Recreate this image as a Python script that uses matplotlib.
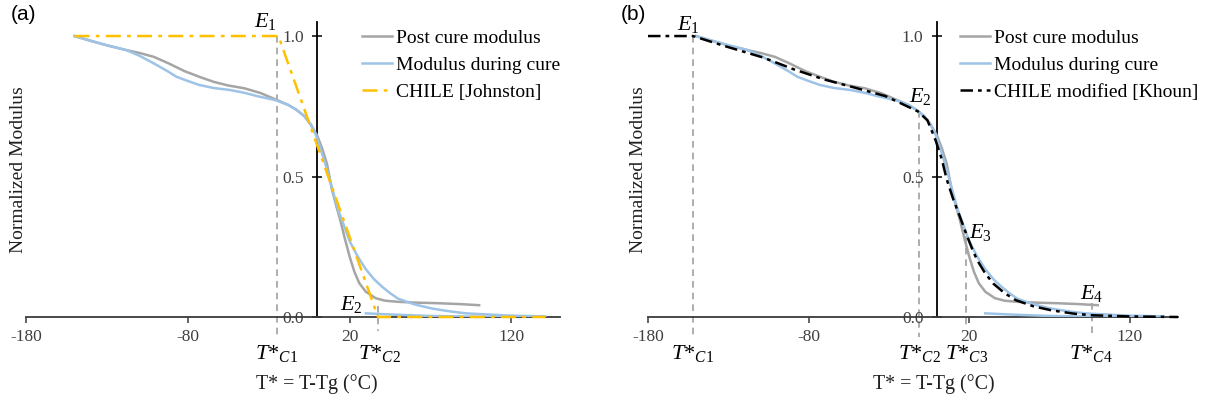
import matplotlib
matplotlib.use("Agg")
import matplotlib.pyplot as plt
from matplotlib.lines import Line2D

# ---------------- data ----------------
post_x = [-150, -140, -130, -118, -110, -101, -92, -82, -72, -64, -55, -45, -35, -26, -18, -13, -8, -4, 0, 3, 6, 9, 12, 14, 17, 20, 23, 26, 30, 36, 42, 50, 62, 75, 88, 100]
post_y = [1.0, 0.983, 0.967, 0.95, 0.94, 0.926, 0.903, 0.875, 0.853, 0.837, 0.824, 0.814, 0.797, 0.775, 0.755, 0.738, 0.715, 0.685, 0.645, 0.6, 0.545, 0.455, 0.39, 0.35, 0.28, 0.215, 0.16, 0.12, 0.09, 0.067, 0.058, 0.054, 0.051, 0.049, 0.046, 0.042]

cure_x = [-150, -140, -130, -118, -110, -104, -98, -92, -87, -80, -73, -64, -54, -45, -37, -26, -18, -13, -8, -4, -1, 2, 6, 10, 13, 16, 20, 25, 30, 35, 40, 45, 50, 60, 71, 82, 92, 105, 119, 141]
cure_y = [1.0, 0.983, 0.967, 0.95, 0.93, 0.912, 0.893, 0.873, 0.855, 0.84, 0.826, 0.815, 0.808, 0.798, 0.786, 0.772, 0.755, 0.738, 0.715, 0.685, 0.65, 0.6, 0.525, 0.44, 0.38, 0.333, 0.27, 0.215, 0.17, 0.135, 0.108, 0.085, 0.065, 0.045, 0.03, 0.02, 0.013, 0.009, 0.005, 0.002]

cure_tail_x = [30, 45, 68, 100, 140]
cure_tail_y = [0.013, 0.009, 0.004, 0.001, 0.0]

johnston_x = [-150, -24, 37.5, 141]
johnston_y = [1.0, 1.0, 0.0, 0.0]

khoun_x = [-180, -152, -132, -108, -89, -70, -51, -32, -12, -6, -1, 3, 6, 10, 14, 18, 22, 25, 30, 35, 42, 49, 60, 71, 85, 97, 120, 150]
khoun_y = [1.0, 1.0, 0.964, 0.923, 0.881, 0.845, 0.816, 0.786, 0.732, 0.70, 0.63, 0.56, 0.49, 0.42, 0.36, 0.298, 0.24, 0.202, 0.155, 0.119, 0.085, 0.06, 0.038, 0.024, 0.012, 0.006, 0.002, 0.0]

# critical temperatures
tc_a = [-25, 37.5]
tc_b = [-152, -11, 18, 96.5]

x_ticks = [-180, -80, 20, 120]
y_ticks = [0.0, 0.5, 1.0]
y_ticklabels = ["0.0", "0.5", "1.0"]

# ---------------- style ----------------
plt.rcParams['font.family'] = ['Liberation Serif', 'DejaVu Serif']
plt.rcParams['mathtext.fontset'] = 'custom'
plt.rcParams['mathtext.it'] = 'Liberation Serif:italic'
plt.rcParams['mathtext.rm'] = 'Liberation Serif'

GRAY = '#A5A5A5'
BLUE = '#9DC3E6'
ORANGE = '#FFC000'
DASH = '#A0A0A0'
TXT = '#404040'
ORANGE_LS = (0, (6, 2.5, 1.5, 2.5))
BLACK_LS = (0, (5, 2, 1.5, 2))

W, H = 1211, 404
fig = plt.figure(figsize=(W / 100, H / 100), dpi=100)


def make_ax(left_px, width_px):
    ax = fig.add_axes([left_px / W, 87 / H, width_px / W, 295 / H])
    ax.set_xlim(-180, 150)
    ax.set_ylim(0, 1.05)
    ax.patch.set_alpha(0)
    for s in ['top', 'right']:
        ax.spines[s].set_visible(False)
    ax.spines['left'].set_position(('data', 0))
    ax.spines['left'].set_color('black')
    ax.spines['left'].set_linewidth(1.3)
    ax.spines['bottom'].set_color('#3a3a3a')
    ax.spines['bottom'].set_linewidth(1.3)
    ax.set_xticks(x_ticks)
    ax.set_xticklabels([str(v) for v in x_ticks])
    ax.set_yticks(y_ticks)
    ax.set_yticklabels(y_ticklabels)
    ax.tick_params(axis='x', direction='out', length=4.5, width=1.1, colors='#3a3a3a',
                   labelsize=12.5, labelcolor=TXT, pad=4)
    ax.tick_params(axis='y', direction='inout', length=7.5, width=1.1, colors='black',
                   labelsize=12.5, labelcolor=TXT, pad=6)
    return ax


def vdash(ax, x, y0, y1):
    ax.plot([x, x], [y0, y1], color=DASH, lw=1.2, ls=(0, (4, 3)), clip_on=False, zorder=1)


def lab(ax, x, y, s, size=16):
    ax.text(x, y, s, fontsize=size, ha='center', va='center', clip_on=False)


def E(n):
    return r'$E_{\mathit{' + str(n) + '}}$'


def TC(n):
    return r'$T{*}_{\mathit{C' + str(n) + '}}$'


LEG_KW = dict(loc='upper left', frameon=False, fontsize=14, handlelength=1.55,
              handletextpad=0.2, labelspacing=0.48, borderpad=0, borderaxespad=0)

# ---------------- panel (a) ----------------
axa = make_ax(26, 534)
vdash(axa, tc_a[0], 1.0, -0.07)
vdash(axa, tc_a[1], 0.04, -0.05)
axa.plot(post_x, post_y, color=GRAY, lw=1.8, zorder=3)
axa.plot(cure_x, cure_y, color=BLUE, lw=1.8, zorder=3)
axa.plot(cure_tail_x, cure_tail_y, color=BLUE, lw=1.8, zorder=3)
axa.plot(johnston_x, johnston_y, color=ORANGE, lw=1.8, ls=ORANGE_LS, zorder=4, clip_on=False)

lab(axa, -32, 1.05, E(1))
lab(axa, 21, 0.045, E(2))
lab(axa, tc_a[0], -0.13, TC(1))
lab(axa, 38.5, -0.13, TC(2))

hs_a = [Line2D([], [], color=GRAY, lw=1.8),
        Line2D([], [], color=BLUE, lw=1.8),
        Line2D([], [], color=ORANGE, lw=1.8, ls=ORANGE_LS)]
fig.legend(hs_a, ['Post cure modulus', 'Modulus during cure', 'CHILE [Johnston]'],
           bbox_to_anchor=(362 / W, 1 - 29.5 / H), **LEG_KW)

# ---------------- panel (b) ----------------
axb = make_ax(648, 530)
vdash(axb, tc_b[0], 1.0, -0.07)
vdash(axb, tc_b[1], 0.732, -0.07)
vdash(axb, tc_b[2], 0.29, -0.04)
vdash(axb, tc_b[3], 0.05, -0.07)
axb.plot(post_x, post_y, color=GRAY, lw=1.8, zorder=3)
axb.plot(cure_x, cure_y, color=BLUE, lw=1.8, zorder=3)
axb.plot(cure_tail_x, cure_tail_y, color=BLUE, lw=1.8, zorder=3)
axb.plot(khoun_x, khoun_y, color='black', lw=1.8, ls=BLACK_LS, zorder=4, clip_on=False)

lab(axb, -155, 1.04, E(1))
lab(axb, -10.5, 0.785, E(2))
lab(axb, 27, 0.3, E(3))
lab(axb, 96, 0.085, E(4))
lab(axb, tc_b[0], -0.13, TC(1))
lab(axb, -11, -0.13, TC(2))
lab(axb, 18.5, -0.13, TC(3))
lab(axb, 96, -0.13, TC(4))

hs_b = [Line2D([], [], color=GRAY, lw=1.8),
        Line2D([], [], color=BLUE, lw=1.8),
        Line2D([], [], color='black', lw=1.8, ls=BLACK_LS)]
fig.legend(hs_b, ['Post cure modulus', 'Modulus during cure', 'CHILE modified [Khoun]'],
           bbox_to_anchor=(960 / W, 1 - 29.5 / H), **LEG_KW)

# ---------------- shared texts ----------------
for cx in (19, 639):
    fig.text(cx / W, 1 - 170 / H, 'Normalized Modulus', rotation=90, fontsize=14,
             ha='center', va='center', color='#202020')
for cx in (317, 934):
    fig.text(cx / W, 1 - 384 / H, 'T* = T-Tg (°C)', fontsize=14.3, ha='center', va='center',
             color='#202020')
fig.text(11 / W, 1 - 14 / H, '(a)', fontsize=15, family='Liberation Sans', ha='left', va='center')
fig.text(621 / W, 1 - 14 / H, '(b)', fontsize=15, family='Liberation Sans', ha='left', va='center')

fig.savefig('out.png', dpi=100)
